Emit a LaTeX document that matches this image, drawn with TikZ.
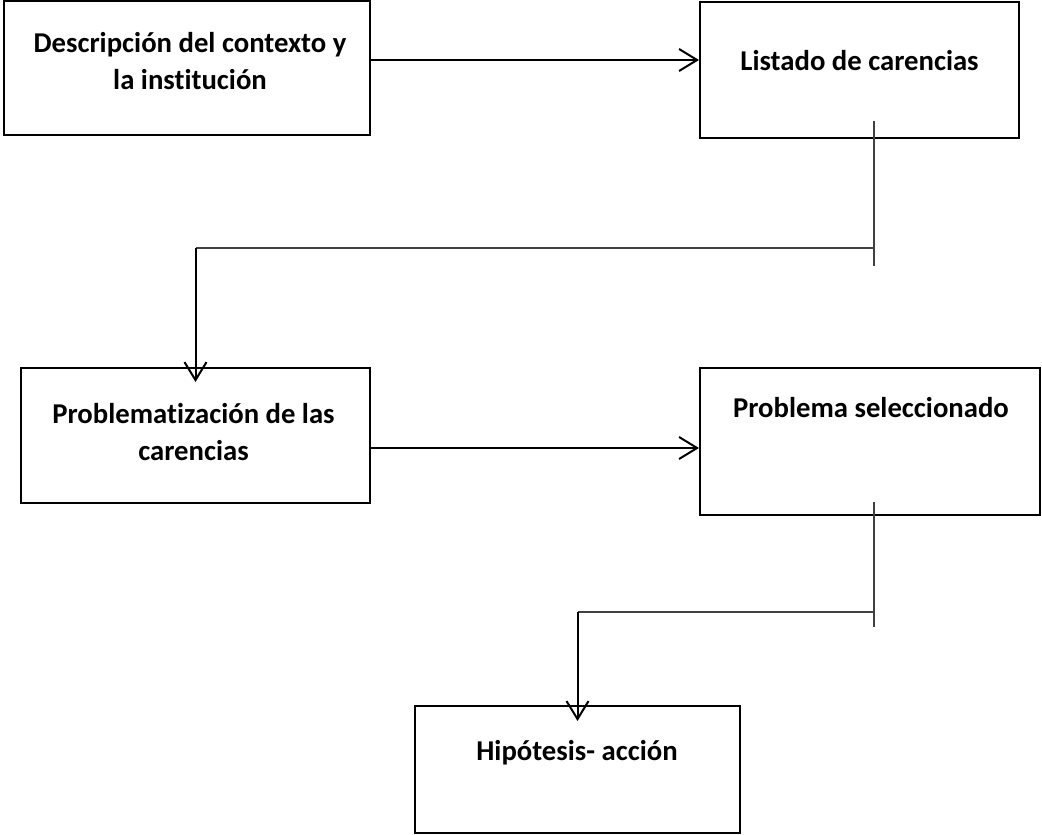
\documentclass[tikz,border=0pt]{standalone}
\usepackage{fontspec}
\setmainfont{Carlito}[Ligatures=NoCommon]
\usetikzlibrary{arrows.meta,positioning}

\begin{document}
\begin{tikzpicture}[x=1pt,y=-1pt,>={Straight Barb[length=18pt,width=22pt]},
        box/.style={rectangle,draw,line width=2pt},
        boxtext/.style={align=center,font=\fontsize{28.7}{37}\selectfont\bfseries},
        link/.style={->,line width=2pt},
        tie/.style={line width=1.3pt,draw=black!75}]
    \useasboundingbox (0,0) rectangle (1042,835);

    \node[box, minimum width=366, minimum height=134] (desc) at (187,68) {};
    \node[box, minimum width=319, minimum height=136] (list) at (859.5,70) {};
    \node[box, minimum width=349, minimum height=135] (prob) at (195.5,435.5) {};
    \node[box, minimum width=340, minimum height=147] (sel) at (870,441.5) {};
    \node[box, minimum width=325, minimum height=127] (hyp) at (577.5,769.5) {};

    \node[boxtext] (descT) at (190,61) {Descripción del contexto y\\la institución};
    \node[boxtext] (listT) at (859.5,61) {Listado de carencias};
    \node[boxtext] (probT) at (193.5,432) {Problematización de las\\carencias};
    \node[boxtext] (selT) at (871,408) {Problema seleccionado};
    \node[boxtext] (hypT) at (577,753) {Hipótesis- acción};

    \coordinate (up1) at (874,121);
    \coordinate (dn1) at (874,266);
    \coordinate (j1) at (874,248);
    \coordinate (k1) at (prob.north |- j1);
    \coordinate (up2) at (874,502);
    \coordinate (dn2) at (874,627);
    \coordinate (j2) at (874,612);
    \coordinate (k2) at (hyp.north |- j2);

    \draw[link] ([yshift=8pt]desc.east) -- ([yshift=10pt]list.west);
    \draw[link] ([yshift=-12.5pt]prob.east) -- ([yshift=-6.5pt]sel.west);

    \draw[tie] (up1) -- (dn1);
    \draw[tie] (j1) -- (k1);
    \draw[link, shorten >=-15pt] (k1) -- (prob.north);

    \draw[tie] (up2) -- (dn2);
    \draw[tie] (j2) -- (k2);
    \draw[link, shorten >=-16pt] (k2) -- (hyp.north);
\end{tikzpicture}
\end{document}
